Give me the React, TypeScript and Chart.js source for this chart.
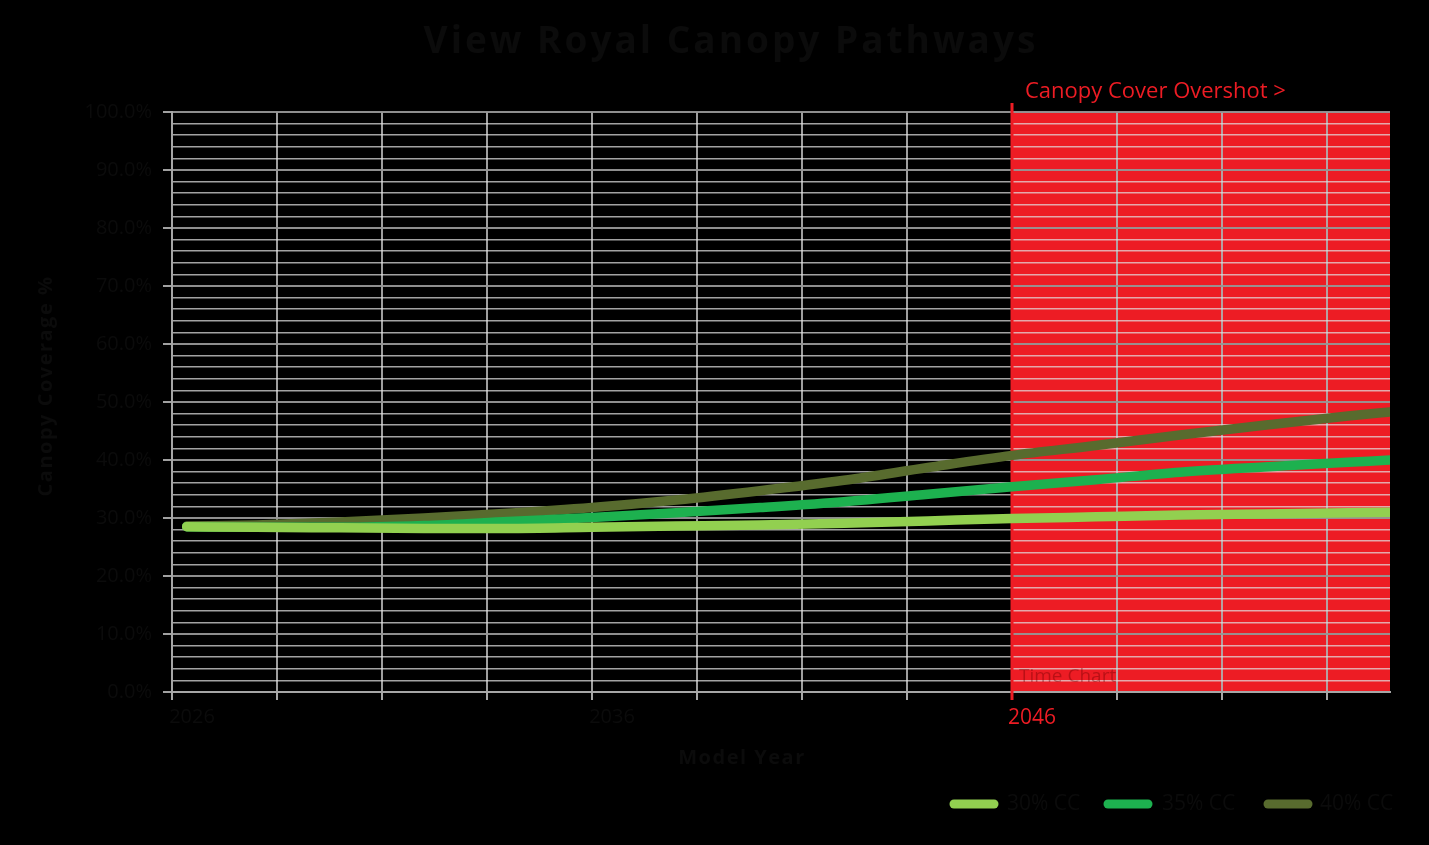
import React, { useEffect, useRef } from "react";
import { Chart, registerables } from "chart.js";

Chart.register(...registerables);

// ---- data ----
const years = [2026.35, 2028, 2030, 2032, 2034, 2036, 2038, 2040, 2042, 2044, 2046, 2048, 2050, 2052, 2054, 2055];
const cc30 = [28.5, 28.4, 28.3, 28.2, 28.2, 28.4, 28.6, 28.8, 29.1, 29.5, 29.9, 30.2, 30.5, 30.7, 30.9, 31.0];
const cc35 = [28.5, 28.4, 28.4, 28.7, 29.4, 30.1, 30.9, 31.8, 32.8, 34.1, 35.4, 36.6, 37.9, 38.8, 39.6, 40.0];
const cc40 = [28.6, 28.8, 29.3, 30.0, 30.8, 31.8, 33.1, 34.7, 36.5, 38.7, 40.8, 42.5, 44.3, 46.0, 47.6, 48.3];
const seriesNames = ["30% CC", "35% CC", "40% CC"];
const seriesColors = ["#92d050", "#1db14f", "#586b2e"];
const gridYears = [2026, 2028.5, 2031, 2033.5, 2036, 2038.5, 2041, 2043.5, 2046, 2048.5, 2051, 2053.5, 2055];
const yearLabels = [2026, 2036, 2046];
const overshootYear = 2046;
const xMin = 2026;
const xMax = 2055;

const RED = "#ed1c24";
const DARK = "#0b0b0b";
const FONT = "'Open Sans', 'DejaVu Sans', sans-serif";

export default function App() {
  const ref = useRef<HTMLCanvasElement | null>(null);

  useEffect(() => {
    document.body.style.margin = "0";
    document.body.style.background = "#000";
    const canvas = ref.current;
    if (!canvas) return;

    const overlay = {
      id: "overlay",
      beforeDraw(chart: any) {
        const { ctx, chartArea } = chart;
        const x = chart.scales.x;
        const x0 = x.getPixelForValue(overshootYear);
        ctx.save();
        ctx.fillStyle = RED;
        ctx.fillRect(x0, chartArea.top, chartArea.right - x0, chartArea.bottom - chartArea.top);
        ctx.restore();
      },
      beforeDatasetsDraw(chart: any) {
        const { ctx, chartArea } = chart;
        const x0 = chart.scales.x.getPixelForValue(overshootYear);
        ctx.save();
        ctx.strokeStyle = RED;
        ctx.lineWidth = 3;
        ctx.beginPath();
        ctx.moveTo(x0, chartArea.top - 9);
        ctx.lineTo(x0, chartArea.bottom + 8);
        ctx.stroke();
        ctx.fillStyle = "rgba(110,0,0,0.4)";
        ctx.font = `19px ${FONT}`;
        ctx.textBaseline = "middle";
        ctx.textAlign = "left";
        ctx.fillText("Time Chart", x0 + 7, chartArea.bottom - 15);
        ctx.restore();
      },
      afterDraw(chart: any) {
        const { ctx } = chart;
        const x0 = chart.scales.x.getPixelForValue(overshootYear);
        ctx.save();
        // title
        ctx.fillStyle = DARK;
        ctx.textAlign = "center";
        ctx.textBaseline = "middle";
        (ctx as any).letterSpacing = "3px";
        ctx.font = `bold 37px ${FONT}`;
        ctx.fillText("View Royal Canopy Pathways", 731, 42);
        // axis titles
        (ctx as any).letterSpacing = "1.5px";
        ctx.font = `bold 20px ${FONT}`;
        ctx.fillText("Model Year", 742, 758);
        ctx.save();
        ctx.translate(46, 386);
        ctx.rotate(-Math.PI / 2);
        ctx.fillText("Canopy Coverage %", 0, 0);
        ctx.restore();
        (ctx as any).letterSpacing = "0px";
        // overshoot label
        ctx.fillStyle = RED;
        ctx.textAlign = "left";
        ctx.font = `22px ${FONT}`;
        ctx.fillText("Canopy Cover Overshot >", x0 + 13, 92);
        // legend
        const lx = [954, 1108, 1268];
        const tx = [1007, 1162, 1320];
        ctx.lineCap = "round";
        ctx.lineWidth = 9;
        ctx.font = `21px ${FONT}`;
        for (let i = 0; i < seriesNames.length; i++) {
          ctx.strokeStyle = seriesColors[i];
          ctx.beginPath();
          ctx.moveTo(lx[i], 804);
          ctx.lineTo(lx[i] + 40, 804);
          ctx.stroke();
          ctx.fillStyle = DARK;
          ctx.fillText(seriesNames[i], tx[i], 804);
        }
        ctx.restore();
      },
    };

    const mk = (vals: number[], i: number) => ({
      label: seriesNames[i],
      data: years.map((y, k) => ({ x: y, y: vals[k] })),
      borderColor: seriesColors[i],
      backgroundColor: seriesColors[i],
      borderWidth: 9.5,
      borderCapStyle: "round" as const,
      pointRadius: 0,
      tension: 0.4,
      cubicInterpolationMode: "monotone" as const,
      fill: false,
    });

    const chart = new Chart(canvas, {
      type: "line",
      data: {
        datasets: [mk(cc30, 0), mk(cc35, 1), mk(cc40, 2)],
      },
      options: {
        responsive: false,
        animation: false,
        layout: { padding: { top: 112, right: 39, left: 0, bottom: 0 } },
        plugins: {
          legend: { display: false },
          title: { display: false },
          tooltip: { enabled: false },
        },
        scales: {
          x: {
            type: "linear",
            min: xMin,
            max: xMax,
            afterBuildTicks: (scale: any) => {
              scale.ticks = gridYears.map((v) => ({ value: v }));
            },
            afterFit: (scale: any) => {
              scale.height = 153;
            },
            border: { color: "#a6a6a6", width: 2 },
            grid: {
              color: (c: any) => (c.tick && c.tick.value === xMax ? "rgba(0,0,0,0)" : "rgba(175,175,175,0.9)"),
              lineWidth: 2,
              tickLength: 8,
              tickColor: (c: any) => (c.tick && c.tick.value === xMax ? "rgba(0,0,0,0)" : "#a6a6a6"),
            },
            ticks: {
              autoSkip: false,
              maxRotation: 0,
              labelOffset: 20,
              padding: 5,
              callback: (v: any) => (yearLabels.includes(Number(v)) ? String(v) : ""),
              color: (c: any) => (c.tick && c.tick.value === overshootYear ? RED : DARK),
              font: (c: any) => ({ family: FONT, size: c.tick && c.tick.value === overshootYear ? 21 : 20 }),
            },
          },
          y: {
            min: 0,
            max: 100,
            afterFit: (scale: any) => {
              scale.width = 172;
            },
            border: { color: "#a6a6a6", width: 2 },
            grid: {
              color: (c: any) =>
                c.tick && c.tick.value % 10 === 0 ? "rgba(150,150,150,0.95)" : "rgba(225,225,225,0.72)",
              lineWidth: (c: any) => (c.tick && c.tick.value % 10 === 0 ? 2 : 1.5),
              tickLength: 9,
              tickColor: (c: any) => (c.tick && c.tick.value % 10 === 0 ? "#a0a0a0" : "rgba(0,0,0,0)"),
            },
            ticks: {
              stepSize: 2,
              autoSkip: false,
              padding: 11,
              color: DARK,
              font: { family: FONT, size: 20 },
              callback: (v: any) => (Number(v) % 10 === 0 ? Number(v).toFixed(1) + "%" : ""),
            },
          },
        },
      },
      plugins: [overlay],
    });

    return () => chart.destroy();
  }, []);

  return (
    <div style={{ position: "fixed", left: 0, top: 0, width: 1429, height: 845, background: "#000" }}>
      <canvas ref={ref} width={1429} height={845} style={{ display: "block", width: 1429, height: 845 }} />
    </div>
  );
}
